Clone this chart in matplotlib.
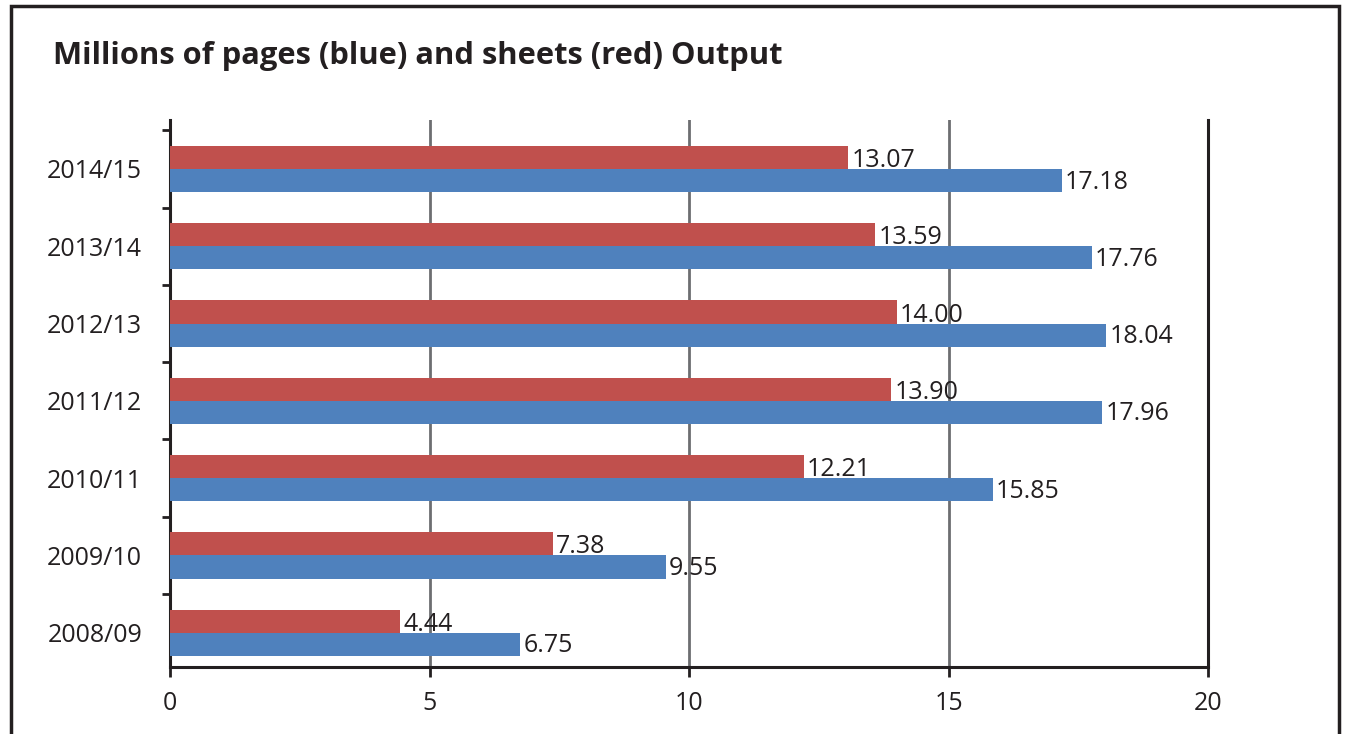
import matplotlib
matplotlib.use("Agg")
import matplotlib.pyplot as plt
from matplotlib.patches import Rectangle
import numpy as np

categories = ["2008/09", "2009/10", "2010/11", "2011/12", "2012/13", "2013/14", "2014/15"]
pages = [6.75, 9.55, 15.85, 17.96, 18.04, 17.76, 17.18]
sheets = [4.44, 7.38, 12.21, 13.90, 14.00, 13.59, 13.07]
xticks = [0, 5, 10, 15, 20]
title = "Millions of pages (blue) and sheets (red) Output"

RED = "#C0504D"
BLUE = "#4F81BD"
TXT = "#231f20"
plt.rcParams['font.family'] = ['Open Sans', 'DejaVu Sans']

fig = plt.figure(figsize=(13.46, 7.34), dpi=100)
ax = fig.add_axes([170/1346, 1-667/734, (1208-170)/1346, (667-120)/734])

y = np.arange(len(categories))
h = 0.3
ax.barh(y + h/2, sheets, height=h, color=RED, zorder=3)
ax.barh(y - h/2, pages, height=h, color=BLUE, zorder=3)

for yi, v in zip(y, sheets):
    ax.text(v + 0.06, yi + h/2 - 0.04, f"{v:.2f}", va="center", ha="left",
            fontsize=18, color=TXT, zorder=4)
for yi, v in zip(y, pages):
    ax.text(v + 0.06, yi - h/2 - 0.02, f"{v:.2f}", va="center", ha="left",
            fontsize=18, color=TXT, zorder=4)

ax.set_xlim(0, 20)
ax.set_ylim(-0.443, 6.633)
ax.set_xticks(xticks)
ax.set_xticklabels([str(t) for t in xticks], fontsize=18, color=TXT)
ax.tick_params(axis="x", length=7, width=2, color=TXT, pad=10)

ax.set_yticks(y + 0.5)
ax.set_yticklabels([])
ax.tick_params(axis="y", which="major", length=6, width=2, color=TXT)
ax.set_yticks(y, minor=True)
ax.set_yticklabels(categories, minor=True, fontsize=18, color=TXT)
ax.tick_params(axis="y", which="minor", length=0, pad=20)

for t in [5, 10, 15]:
    ax.axvline(t, color="#6d6e71", lw=2, zorder=1)

for s in ["left", "bottom", "right"]:
    ax.spines[s].set_color(TXT)
    ax.spines[s].set_linewidth(2.2)
ax.spines["top"].set_visible(False)

fig.text(53/1346, 1-64/734, title, fontsize=22.2, fontweight="bold", color=TXT,
         va="baseline", ha="left")

fig.patches.append(Rectangle((11.5/1346, -0.1), (1339-11.5)/1346, 1.1 - 6.5/734,
                             transform=fig.transFigure, fill=False, lw=2.5,
                             edgecolor=TXT, clip_on=False))

fig.savefig("out.png", dpi=100)
